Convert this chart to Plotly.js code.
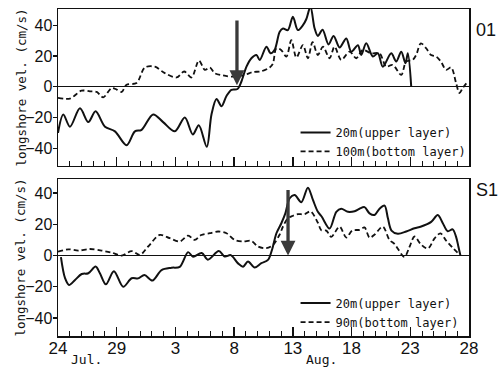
<!DOCTYPE html>
<html>
<head>
<meta charset="utf-8">
<script src="https://cdn.plot.ly/plotly-3.0.1.min.js"></script>
<style>
  html, body { margin: 0; padding: 0; background: #fff; }
  #chart { width: 500px; height: 369px; }
</style>
</head>
<body>
<div id="chart"></div>
<script>
// Time axis: days counted from 24 Jul (0) to 28 Aug (35)
const dayTickVals = [0, 5, 10, 15, 20, 25, 30, 35];
const dayTickText = ['24', '29', '3', '8', '13', '18', '23', '28'];
const monthLabels = ['Jul.', 'Aug.'];
const monthLabelDays = [2.4, 22.4];

// Station 01, 20 m (upper layer)
const o1UpperDay = [0, 0.45, 1.02, 1.87, 2.58, 3.2, 4.0, 4.85, 5.84, 6.55,
  7.12, 8.1, 8.95, 9.95, 10.8, 11.48, 11.99, 12.67, 13.07, 13.5,
  13.92, 14.35, 14.77, 15.28, 15.62, 16.05, 16.47, 16.9, 17.18, 17.75,
  18.11, 18.45, 18.88, 19.16, 19.58, 20.0, 20.43, 20.86, 21.15, 21.5,
  21.85, 22.13, 22.53, 23.04, 23.47, 23.98, 24.55, 24.97, 25.54, 25.82,
  26.25, 26.81, 27.24, 27.66, 28.38, 28.8, 29.23, 29.59, 29.79, 30.08];
const o1UpperVel = [-30, -18, -26, -14, -23, -16, -26, -29, -38, -29,
  -28, -18, -23, -29, -20, -31, -25, -39, -18, -8,
  -12.7, -6, -2, -1.5, 3.4, 13, 18.5, 20.6, 17.4, 26,
  21.7, 24, 35.7, 37.8, 36.8, 45.4, 36.8, 40, 44, 52,
  38, 33, 37, 27.5, 33, 25.5, 31.4, 22.8, 27, 20.6,
  28.2, 19.6, 21.7, 13, 21.7, 16.4, 22.8, 15.3, 21.7, 0];

// Station 01, 100 m (bottom layer)
const o1BottomDay = [0, 1.02, 2.0, 2.72, 3.3, 3.85, 4.57, 5.0, 5.42, 5.84,
  6.69, 7.4, 8.25, 9.1, 10.1, 10.74, 11.37, 12.0, 12.5, 12.93,
  13.35, 14.06, 14.77, 15.9, 16.6, 17.3, 18.03, 18.3, 18.6, 19.0,
  19.45, 19.87, 20.3, 20.86, 21.28, 21.68, 22.13, 22.56, 23.13, 23.55,
  24.12, 24.83, 25.4, 25.96, 26.67, 27.38, 27.95, 28.5, 29.23, 29.65,
  30.2, 30.5, 30.9, 31.35, 31.77, 32.2, 32.6, 33.05, 33.48, 33.9,
  34.18, 34.47, 34.9];
const o1BottomVel = [-7.3, -7.7, -2.6, -3, -3.4, -6.9, -0.9, -1.9, -3.4, 1.3,
  2.4, 12.5, 13, 8.8, 6, 9.9, 6, 17, 11, 12.5,
  8.8, 7.3, 6.6, 7.7, 9.5, 10, 12.5, 15, 25, 23.9,
  19.6, 30.3, 19, 27, 18.5, 29, 20.6, 26, 18.5, 26,
  17.4, 22.8, 18.5, 23.9, 21.7, 21.7, 13, 14.2, 7.7, 16.4,
  17.4, 20.6, 28.2, 25, 20.6, 19.6, 16.4, 11, 12.5, 2.4,
  -4.1, -0.8, 3.4];

// Station S1, 20 m (upper layer)
const s1UpperDay = [0.25, 0.6, 0.94, 1.45, 2.02, 2.58, 3.2, 3.57, 4.08, 4.76,
  5.55, 6.27, 6.83, 7.36, 8.04, 8.82, 9.67, 10.37, 11.08, 11.5,
  12.24, 12.76, 13.69, 14.2, 14.71, 15.33, 15.76, 16.18, 16.75, 17.32,
  17.88, 18.22, 18.6, 19.02, 19.36, 19.73, 20.15, 20.72, 21.28, 21.71,
  22.13, 22.45, 23.13, 23.7, 24.12, 24.69, 25.26, 25.68, 26.1, 26.53,
  26.96, 27.38, 27.81, 28.09, 28.4, 28.94, 29.65, 30.36, 30.93, 31.78,
  32.34, 32.77, 33.19, 33.61, 33.9, 34.1, 34.27];
const s1UpperVel = [-1, -14.5, -18.8, -15.6, -11.8, -11.3, -7, -11.3, -18.4, -10,
  -20, -14.5, -14.6, -12.5, -16, -9.3, -7.8, -7.2, 2.2, -0.7,
  1.7, -2.6, 2.9, -0.6, 0.3, -5, -7.1, -3.8, -7.7, -4.9,
  -2.8, 3.6, 14.3, 20.7, 27, 36.7, 38.8, 34.2, 43.5, 35.6,
  28, 25, 17.3, 28, 30, 28, 28.4, 30, 31, 27,
  26, 30, 32, 24, 16, 14, 15.4, 17.5, 18.6, 21.6,
  26, 20.7, 15.6, 16.8, 12, 5.7, 0];

// Station S1, 90 m (bottom layer)
const s1BottomDay = [0, 0.88, 1.73, 2.72, 3.7, 4.57, 5.42, 6.27, 6.97, 7.68,
  8.67, 9.52, 10.37, 11.08, 11.65, 12.2, 12.93, 13.63, 14.35, 15.05,
  15.76, 16.47, 17.03, 17.74, 18.3, 18.88, 19.16, 19.58, 20.0, 20.43,
  21.0, 21.5, 22.13, 22.42, 22.85, 23.27, 23.98, 24.55, 25.06, 25.68,
  26.1, 26.53, 26.96, 27.66, 28.23, 28.65, 29.5, 29.93, 30.36, 30.9,
  31.5, 32.07, 32.57, 33.06, 33.61, 34.2];
const s1BottomVel = [2.5, 4, 3.2, 4.2, 3.2, 1.9, 0, 2.9, 0.4, 5.8,
  13.2, 11.1, 9, 12.8, 10, 13.2, 14.3, 15.4, 14.3, 10,
  9, 9.4, 5.8, 4.7, 6.8, 13.5, 18.6, 23.9, 25.5, 26.5,
  26.5, 28.3, 21, 16.2, 16, 12, 18.5, 11.5, 16, 16.5,
  18, 11.5, 13.5, 18.5, 10, 7.5, -0.8, 5.5, 12.2, 7.2,
  4.5, 11, 14.2, 9.5, 5, 0.5];

// Event arrows: [day, tail velocity, tip velocity]
const o1Arrow = [15.24, 44, 1];
const s1Arrow = [19.59, 43, 0];

const stationNames = ['01', 'S1'];
const seriesNames = {
  o1Upper: '20m(upper layer)', o1Bottom: '100m(bottom layer)',
  s1Upper: '20m(upper layer)', s1Bottom: '90m(bottom layer)'
};
const yTitle = 'longshore vel. (cm/s)';

const INK = '#111';
const NARROW = '"Liberation Sans Narrow", "Liberation Sans", Arial, sans-serif';
const MONO = '"DejaVu Sans Mono", "Liberation Mono", monospace';

// Panel domains (paper fractions): lower panel S1, upper panel 01
const s1Domain = [0, 0.48];
const o1Domain = [0.52, 1];

function lineTrace(x, y, name, dash, xa, ya, legend) {
  return {
    type: 'scatter', mode: 'lines', x: x, y: y, name: name,
    xaxis: xa, yaxis: ya, legend: legend,
    line: { color: INK, width: dash ? 1.8 : 2, dash: dash || 'solid', shape: 'spline', smoothing: 0.9 },
    hoverinfo: 'skip'
  };
}

const data = [
  lineTrace(o1UpperDay, o1UpperVel, seriesNames.o1Upper, null, 'x2', 'y2', 'legend'),
  lineTrace(o1BottomDay, o1BottomVel, seriesNames.o1Bottom, '5px,3px', 'x2', 'y2', 'legend'),
  lineTrace(s1UpperDay, s1UpperVel, seriesNames.s1Upper, null, 'x', 'y', 'legend2'),
  lineTrace(s1BottomDay, s1BottomVel, seriesNames.s1Bottom, '5px,3px', 'x', 'y', 'legend2')
];

function xAxis(anchor, labels) {
  return {
    anchor: anchor, domain: [0, 1], range: [0, 35],
    tickmode: 'array', tickvals: dayTickVals, ticktext: dayTickText,
    showticklabels: labels, ticklabelstandoff: -4,
    ticks: 'inside', ticklen: 9, tickwidth: 1.3, tickcolor: INK,
    minor: { tickmode: 'linear', tick0: 0, dtick: 1, ticks: 'inside', ticklen: 5, tickwidth: 1, tickcolor: INK },
    showline: true, mirror: true, linecolor: INK, linewidth: 1.5,
    showgrid: false, zeroline: false,
    tickfont: { family: NARROW, size: 17, color: INK }
  };
}

function yAxis(domain, range) {
  return {
    domain: domain, range: range, tickmode: 'linear', tick0: 0, dtick: 20,
    ticks: 'outside', ticklen: 4, tickwidth: 1.3, tickcolor: INK,
    ticklabelstandoff: -3,
    showline: true, mirror: true, linecolor: INK, linewidth: 1.5,
    showgrid: false, zeroline: true, zerolinecolor: INK, zerolinewidth: 1,
    tickfont: { family: NARROW, size: 16, color: INK }
  };
}

function legendBox(y) {
  return {
    x: 0.578, y: y, xanchor: 'left', yanchor: 'top',
    bgcolor: 'rgba(0,0,0,0)', borderwidth: 0,
    font: { family: MONO, size: 12, color: INK },
    itemwidth: 30, tracegroupgap: 0
  };
}

function arrow(spec, xa, ya) {
  return {
    x: spec[0], y: spec[2], ax: spec[0], ay: spec[1],
    xref: xa, yref: ya, axref: xa, ayref: ya,
    text: '', showarrow: true, arrowhead: 2, arrowsize: 0.9,
    arrowwidth: 3.3, arrowcolor: '#3a3a3a', standoff: 0
  };
}

// Rotated y-axis caption, centred on a panel
function yCaption(domain) {
  return {
    text: yTitle, textangle: -90, xref: 'paper', yref: 'paper',
    x: -0.09, y: (domain[0] + domain[1]) / 2, xanchor: 'center', yanchor: 'middle',
    showarrow: false, font: { family: MONO, size: 12.5, color: INK }
  };
}

const annotations = [
  arrow(o1Arrow, 'x2', 'y2'),
  arrow(s1Arrow, 'x', 'y'),
  yCaption(o1Domain),
  yCaption(s1Domain),
  { text: stationNames[0], xref: 'paper', yref: 'paper', x: 1.012, y: 0.972,
    xanchor: 'left', showarrow: false, font: { family: NARROW, size: 18, color: INK } },
  { text: stationNames[1], xref: 'paper', yref: 'paper', x: 1.012, y: 0.446,
    xanchor: 'left', showarrow: false, font: { family: NARROW, size: 18, color: INK } }
];
monthLabels.forEach(function (m, i) {
  annotations.push({ text: m, xref: 'x', yref: 'paper', x: monthLabelDays[i], y: -0.1,
    showarrow: false, font: { family: MONO, size: 13, color: INK } });
});

const layout = {
  width: 500, height: 369,
  margin: { l: 58, r: 31, t: 9, b: 33 },
  paper_bgcolor: '#fff', plot_bgcolor: '#fff',
  showlegend: true,
  xaxis: xAxis('y', true),
  xaxis2: xAxis('y2', false),
  yaxis: yAxis(s1Domain, [-51.5, 49]),
  yaxis2: yAxis(o1Domain, [-51.5, 50.5]),
  legend: legendBox(0.667),
  legend2: legendBox(0.145),
  annotations: annotations
};
layout.xaxis2.matches = 'x';

Plotly.newPlot('chart', data, layout, { staticPlot: true, displayModeBar: false });
</script>
</body>
</html>
